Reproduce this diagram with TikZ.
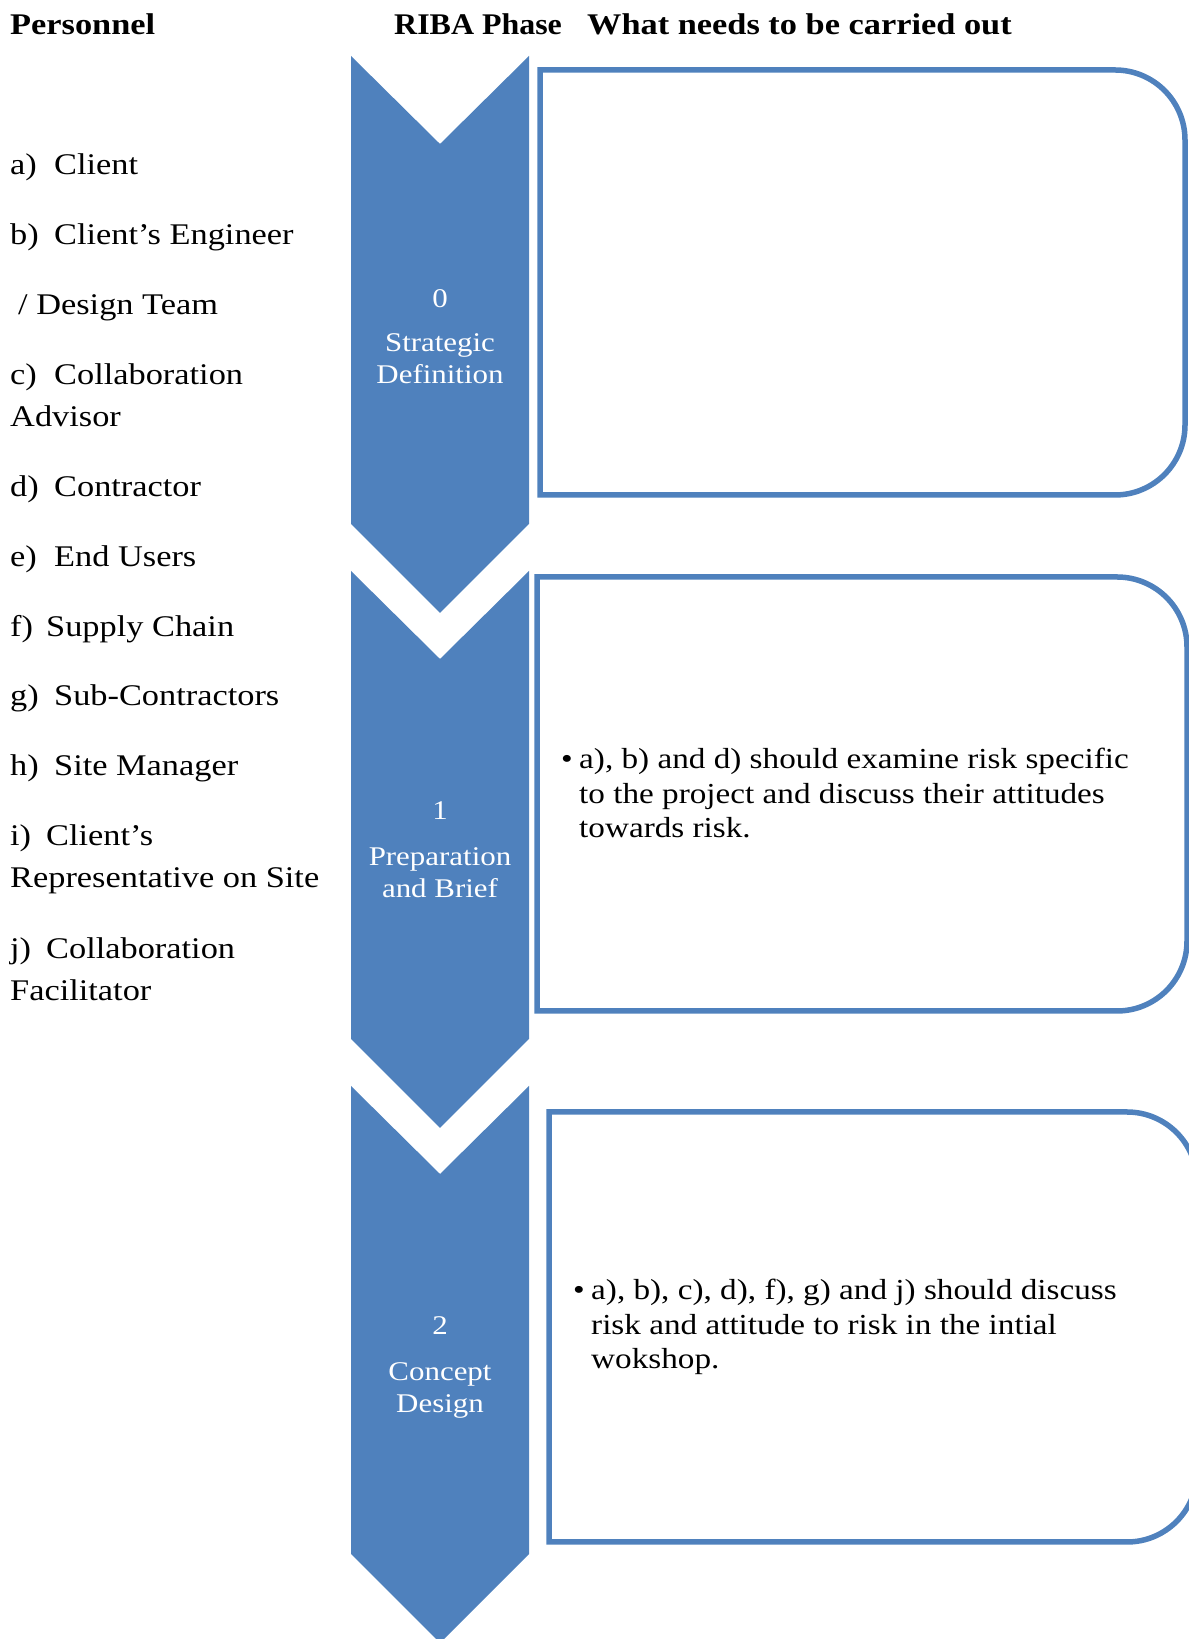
\documentclass[tikz,border=0pt]{standalone}
\usepackage{fontspec}
\usepackage{graphicx}
\setmainfont[FakeStretch=1.145]{Liberation Serif}
\definecolor{riba}{HTML}{4F81BD}
\begin{document}
\begin{tikzpicture}[x=1pt,y=1pt,
  chev/.style={fill=riba, draw=none},
  panel/.style={draw=riba, line width=5.5pt},
  head/.style={anchor=base west, inner sep=0pt, font=\fontsize{30}{36}\selectfont\bfseries},
  item/.style={anchor=base west, inner sep=0pt, font=\fontsize{30}{42}\selectfont},
  phnum/.style={anchor=base, inner sep=0pt, text=white, font=\fontsize{27}{32}\selectfont},
  phname/.style={anchor=base, inner sep=0pt, text=white, font=\fontsize{27}{32}\selectfont},
  task/.style={anchor=base west, inner sep=0pt, font=\fontsize{29}{34.5}\selectfont}]
\useasboundingbox (0,0) rectangle (1189,1639);

% chevrons
\fill[chev] (351,1583) -- (440,1495) -- (529,1583) -- (529,1115) -- (440,1026) -- (351,1115) -- cycle;
\fill[chev] (351,1068) -- (440,980) -- (529,1068) -- (529,600) -- (440,511) -- (351,600) -- cycle;
\fill[chev] (351,553) -- (440,465) -- (529,553) -- (529,85) -- (440,-4) -- (351,85) -- cycle;

% panels
\draw[panel] (540,1569) -- (1115,1569) arc[start angle=90,end angle=0,radius=70] -- (1185,1214) arc[start angle=0,end angle=-90,radius=70] -- (540,1144) -- cycle;
\draw[panel] (537,1062) -- (1117,1062) arc[start angle=90,end angle=0,radius=70] -- (1187,698) arc[start angle=0,end angle=-90,radius=70] -- (537,628) -- cycle;
\draw[panel] (549,527) -- (1127,527) arc[start angle=90,end angle=0,radius=70] -- (1197,167) arc[start angle=0,end angle=-90,radius=70] -- (549,97) -- cycle;

% headers
\node[head] (hpers) at (10,1604) {Personnel};
\node[head] (hriba) at (394,1604) {\scalebox{0.93}[1]{RIBA Phase}};
\node[head] (hwhat) at (587,1604) {What needs to be carried out};

% personnel
\node[item] (ia) at (10,1464) {\makebox[44pt][l]{a)}Client};
\node[item] (ib) at (10,1394) {\makebox[44pt][l]{b)}Client’s Engineer};
\node[item] (ib2) at (18,1324) {/ Design Team};
\node[item] (ic) at (10,1254) {\begin{tabular}[t]{@{}l@{}}\makebox[44pt][l]{c)}Collaboration\\Advisor\end{tabular}};
\node[item] (id) at (10,1142) {\makebox[44pt][l]{d)}Contractor};
\node[item] (ie) at (10,1072) {\makebox[44pt][l]{e)}End Users};
\node[item] (if) at (10,1002) {\makebox[36pt][l]{f)}Supply Chain};
\node[item] (ig) at (10,933) {\makebox[44pt][l]{g)}Sub-Contractors};
\node[item] (ih) at (10,863) {\makebox[44pt][l]{h)}Site Manager};
\node[item] (ii) at (10,793) {\begin{tabular}[t]{@{}l@{}}\makebox[36pt][l]{i)}Client’s\\Representative on Site\end{tabular}};
\node[item] (ij) at (10,680) {\begin{tabular}[t]{@{}l@{}}\makebox[36pt][l]{j)}Collaboration\\Facilitator\end{tabular}};

% phase labels
\node[phnum] (p0) at (440,1331) {0};
\node[phname] (p0n) at (440,1287) {\begin{tabular}[t]{@{}c@{}}Strategic\\Definition\end{tabular}};
\node[phnum] (p1) at (440,819) {1};
\node[phname] (p1n) at (440,773) {\begin{tabular}[t]{@{}c@{}}Preparation\\and Brief\end{tabular}};
\node[phnum] (p2) at (440,304) {2};
\node[phname] (p2n) at (440,258) {\begin{tabular}[t]{@{}c@{}}Concept\\Design\end{tabular}};

% tasks
\node[task] (t1b) at (561,870) {\textbullet};
\node[task] (t1) at (579,870) {\begin{tabular}[t]{@{}l@{}}a), b) and d) should examine risk specific\\to the project and discuss their attitudes\\towards risk.\end{tabular}};
\node[task] (t2b) at (573,339) {\textbullet};
\node[task] (t2) at (591,339) {\begin{tabular}[t]{@{}l@{}}a), b), c), d), f), g) and j) should discuss\\risk and attitude to risk in the intial\\wokshop.\end{tabular}};
\end{tikzpicture}
\end{document}
